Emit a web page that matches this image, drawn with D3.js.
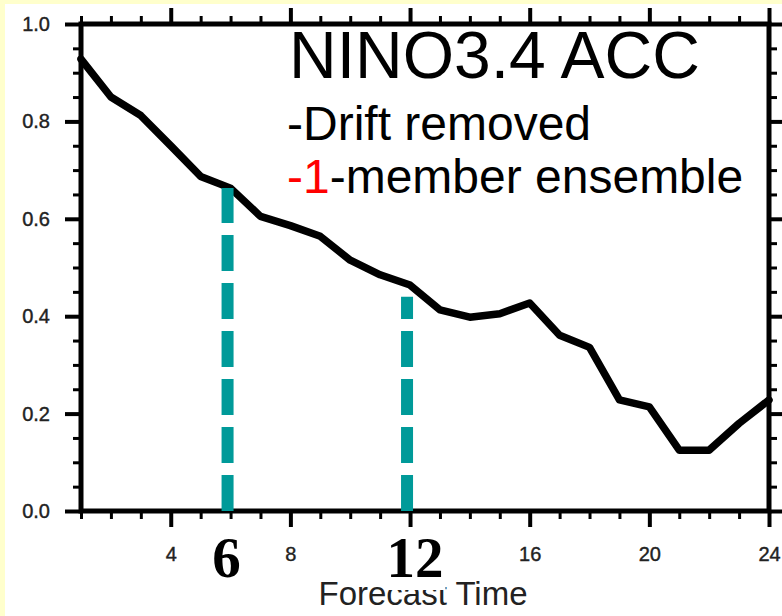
<!DOCTYPE html>
<html>
<head>
<meta charset="utf-8">
<script src="https://cdn.jsdelivr.net/npm/d3@7"></script>
<style>
  html, body { margin: 0; padding: 0; background: #FFFFCC; }
  svg { display: block; }
  text { font-family: "Liberation Sans", Arial, Helvetica, sans-serif; }
</style>
</head>
<body>
<svg id="chart" width="782" height="616"></svg>
<script>
// Forecast lead (months) and NINO3.4 anomaly correlation skill
const leadTimes = [1, 2, 3, 4, 5, 6, 7, 8, 9, 10, 11, 12, 13, 14, 15, 16, 17, 18, 19, 20, 21, 22, 23, 24];
const accValues = [0.928, 0.850, 0.812, 0.750, 0.687, 0.663, 0.605, 0.586, 0.564, 0.515, 0.485, 0.464,
                   0.413, 0.398, 0.405, 0.427, 0.361, 0.336, 0.228, 0.214, 0.125, 0.125, 0.180, 0.228];

// Axis ticks (the 12 label is replaced by the large highlight label)
const xMajorTicks = [4, 8, 12, 16, 20, 24];
const xMajorLabels = ["4", "8", "", "16", "20", "24"];
const xMinorTicks = [1, 2, 3, 5, 6, 7, 9, 10, 11, 13, 14, 15, 17, 18, 19, 21, 22, 23];
const yMajorTicks = [0.0, 0.2, 0.4, 0.6, 0.8, 1.0];
const yMinorTicks = [0.05, 0.1, 0.15, 0.25, 0.3, 0.35, 0.45, 0.5, 0.55, 0.65, 0.7, 0.75, 0.85, 0.9, 0.95];

// Highlighted lead times and where their dashed markers stop
const highlightLeads = [6, 12];
const highlightTops = [0.663, 0.44];
const highlightLabels = ["6", "12"];

// Annotation text
const titleText = "NINO3.4 ACC";
const noteDrift = "-Drift removed";
const noteMembersCount = "-1";
const noteMembersRest = "-member ensemble";
const xAxisTitle = "Forecast Time";

const svg = d3.select("#chart");
const W = 782, H = 616;
const plot = { left: 81, right: 769, top: 24, bottom: 511 };

// slide background with white panel
svg.append("rect").attr("width", W).attr("height", H).attr("fill", "#FFFFCC");
svg.append("rect").attr("x", 5).attr("y", 4).attr("width", W - 5).attr("height", H - 4).attr("fill", "#ffffff");

const x = d3.scaleLinear().domain([1, 24]).range([plot.left, plot.right]);
const y = d3.scaleLinear().domain([0, 1]).range([plot.bottom, plot.top]);

function styleAxis(g, width) {
  g.select(".domain").remove();
  g.selectAll(".tick line").attr("stroke", "#000").attr("stroke-width", width);
  g.selectAll(".tick text")
    .attr("fill", "#222")
    .attr("stroke", "#222")
    .attr("stroke-width", 0.4)
    .style("font-size", "20px")
    .style("font-family", "\"Liberation Sans\", Arial, Helvetica, sans-serif");
}

// bottom axis (labelled majors + minors)
svg.append("g").attr("transform", `translate(0,${plot.bottom})`)
  .call(d3.axisBottom(x).tickValues(xMajorTicks).tickSize(16).tickPadding(20)
    .tickFormat((d, i) => xMajorLabels[i]))
  .call(g => styleAxis(g, 4));
svg.append("g").attr("transform", `translate(0,${plot.bottom})`)
  .call(d3.axisBottom(x).tickValues(xMinorTicks).tickSize(8).tickFormat(""))
  .call(g => styleAxis(g, 3));

// top axis
svg.append("g").attr("transform", `translate(0,${plot.top})`)
  .call(d3.axisTop(x).tickValues(xMajorTicks).tickSize(16).tickFormat(""))
  .call(g => styleAxis(g, 4));
svg.append("g").attr("transform", `translate(0,${plot.top})`)
  .call(d3.axisTop(x).tickValues(xMinorTicks).tickSize(8).tickFormat(""))
  .call(g => styleAxis(g, 3));

// left axis
svg.append("g").attr("transform", `translate(${plot.left},0)`)
  .call(d3.axisLeft(y).tickValues(yMajorTicks).tickSize(16).tickPadding(15).tickFormat(d3.format(".1f")))
  .call(g => styleAxis(g, 4));
svg.append("g").attr("transform", `translate(${plot.left},0)`)
  .call(d3.axisLeft(y).tickValues(yMinorTicks).tickSize(8).tickFormat(""))
  .call(g => styleAxis(g, 3));

// right axis
svg.append("g").attr("transform", `translate(${plot.right},0)`)
  .call(d3.axisRight(y).tickValues(yMajorTicks).tickSize(16).tickFormat(""))
  .call(g => styleAxis(g, 4));
svg.append("g").attr("transform", `translate(${plot.right},0)`)
  .call(d3.axisRight(y).tickValues(yMinorTicks).tickSize(8).tickFormat(""))
  .call(g => styleAxis(g, 3));

// plot frame
svg.append("rect")
  .attr("x", plot.left).attr("y", plot.top)
  .attr("width", plot.right - plot.left).attr("height", plot.bottom - plot.top)
  .attr("fill", "none").attr("stroke", "#000").attr("stroke-width", 5);

// ACC curve
const line = d3.line().x((d, i) => x(leadTimes[i])).y(d => y(d));
svg.append("path")
  .datum(accValues)
  .attr("d", line)
  .attr("fill", "none")
  .attr("stroke", "#000")
  .attr("stroke-width", 7.5)
  .attr("stroke-linejoin", "round")
  .attr("stroke-linecap", "round");

// dashed teal markers, drawn upward from the zero line
highlightLeads.forEach((lead, i) => {
  svg.append("line")
    .attr("x1", x(lead) - 3).attr("x2", x(lead) - 3)
    .attr("y1", y(0)).attr("y2", y(highlightTops[i]))
    .attr("stroke", "#009A99")
    .attr("stroke-width", 12)
    .attr("stroke-dasharray", "36 12");
});

// x-axis title
svg.append("text")
  .attr("x", (plot.left + plot.right) / 2 - 2)
  .attr("y", 605)
  .attr("text-anchor", "middle")
  .attr("fill", "#222")
  .style("font-size", "33px")
  .text(xAxisTitle);

// large lead-time labels under the markers
highlightLeads.forEach((lead, i) => {
  const g = svg.append("g");
  const t = g.append("text")
    .attr("x", x(lead) + (i === 0 ? -4 : 5))
    .attr("y", 577)
    .attr("text-anchor", "middle")
    .attr("fill", "#000")
    .style("font-family", "\"Liberation Serif\", \"Times New Roman\", serif")
    .style("font-weight", "bold")
    .style("font-size", "57px")
    .text(highlightLabels[i]);
  if (i === 1) {
    const bb = t.node().getBBox();
    g.insert("rect", "text")
      .attr("x", bb.x - 2).attr("y", bb.y + 6)
      .attr("width", bb.width + 4).attr("height", 590 - (bb.y + 6))
      .attr("fill", "#fff");
  }
});

// annotation block
svg.append("text")
  .attr("x", 289).attr("y", 78)
  .attr("fill", "#000")
  .style("font-size", "66px")
  .text(titleText);
svg.append("text")
  .attr("x", 287).attr("y", 140)
  .attr("fill", "#000")
  .style("font-size", "48px")
  .text(noteDrift);
const note2 = svg.append("text")
  .attr("x", 287).attr("y", 193)
  .attr("fill", "#000")
  .style("font-size", "48px");
note2.append("tspan").attr("fill", "#ff0000").text(noteMembersCount);
note2.append("tspan").text(noteMembersRest);
</script>
</body>
</html>
